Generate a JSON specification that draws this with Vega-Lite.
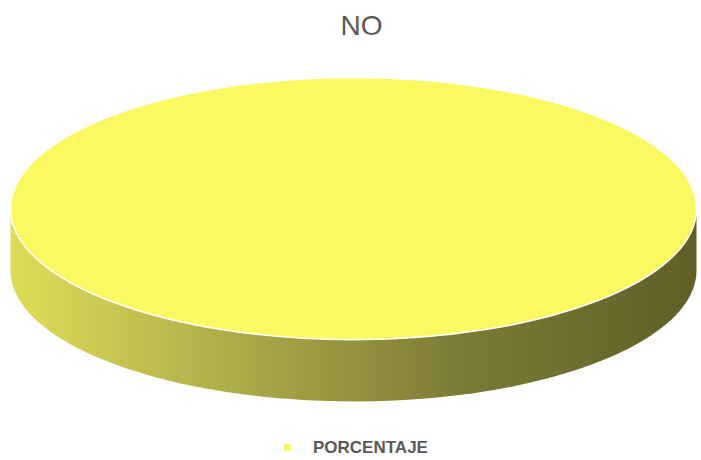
{
  "$schema": "https://vega.github.io/schema/vega-lite/v6.json",
  "width": 701,
  "height": 460,
  "autosize": {"type": "fit", "contains": "padding"},
  "padding": {"top": 13, "bottom": 4, "left": 6, "right": 0},
  "background": "white",
  "title": {
    "text": "NO",
    "fontSize": 28,
    "font": "Liberation Sans",
    "fontWeight": "normal",
    "color": "#595959",
    "anchor": "middle",
    "dx": 8,
    "offset": 19
  },
  "config": {
    "view": {"stroke": null},
    "legend": {"layout": {"bottom": {"anchor": "middle"}}}
  },
  "data": {"values": [{"serie": "PORCENTAJE", "valor": 100}]},
  "layer": [
    {
      "mark": {
        "type": "point",
        "filled": true,
        "opacity": 1,
        "size": 470596,
        "shape": "M -1 -0.09 L -1 0.09 A 1 0.382 0 0 0 1 0.09 L 1 -0.09 Z",
        "color": {
          "gradient": "linear",
          "x1": 0, "y1": 0, "x2": 1, "y2": 0,
          "stops": [
            {"offset": 0, "color": "#dedd58"},
            {"offset": 0.35, "color": "#a9a847"},
            {"offset": 0.65, "color": "#7d7c36"},
            {"offset": 1, "color": "#5f5f27"}
          ]
        }
      },
      "encoding": {"tooltip": {"field": "valor", "type": "quantitative"}}
    },
    {
      "mark": {
        "type": "point",
        "filled": true,
        "opacity": 1,
        "size": 470596,
        "shape": "M -1 -0.09 A 1 0.382 0 1 1 1 -0.09 A 1 0.382 0 1 1 -1 -0.09 Z",
        "stroke": "white",
        "strokeWidth": 1.5,
        "strokeOpacity": 1
      },
      "encoding": {
        "color": {
          "field": "serie",
          "type": "nominal",
          "scale": {"range": ["#faf962"]},
          "legend": {
            "orient": "bottom",
            "title": null,
            "symbolType": "square",
            "symbolSize": 49,
            "symbolStrokeWidth": 0,
            "labelColor": "#595959",
            "labelFontSize": 17,
            "labelFontWeight": "bold",
            "labelFont": "Liberation Sans",
            "labelOffset": 17,
            "offset": 20
          }
        },
        "tooltip": {"field": "valor", "type": "quantitative"}
      }
    }
  ]
}
